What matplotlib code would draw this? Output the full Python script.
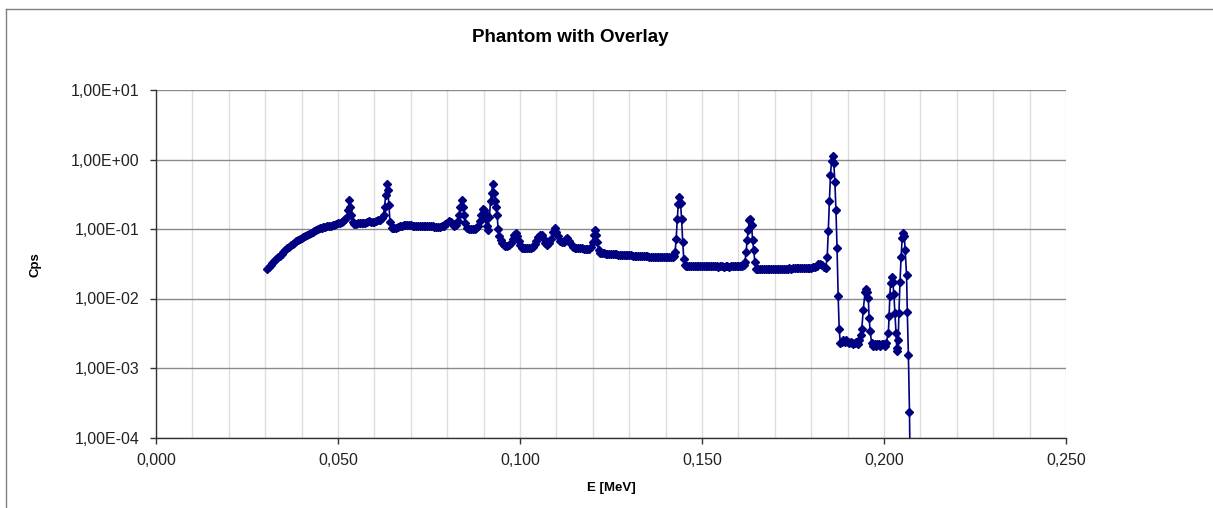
import matplotlib
matplotlib.use("Agg")
import matplotlib.pyplot as plt
from matplotlib.ticker import FuncFormatter, MultipleLocator, LogLocator, NullLocator
from matplotlib.lines import Line2D

plt.rcParams['font.family'] = ['Liberation Sans', 'DejaVu Sans']

# energies in keV, count rates in cps
energy_kev = [
    # rise
    30.5, 31.0, 31.5, 32.0, 32.5, 33.0, 33.5, 34.0, 34.5, 35.0,
    35.5, 36.0, 36.5, 37.0, 37.5, 38.0, 38.5, 39.0, 39.5, 40.0,
    40.5, 41.0, 41.5, 42.0, 42.5, 43.0, 43.5, 44.0, 44.5, 45.0,
    45.5, 46.0, 46.5, 47.0, 47.5, 48.0, 48.5, 49.0, 49.5, 50.0,
    50.5, 51.0, 51.5, 52.0, 52.5,
    # peak 53
    52.8, 53.1, 53.4, 53.7, 54.0, 54.5,
    55.0, 55.5, 56.0, 56.5, 57.0, 57.5, 58.0, 58.5, 59.0, 59.5,
    60.0, 60.5, 61.0, 61.5, 62.0, 62.5,
    # peak 63
    62.8, 63.1, 63.4, 63.7, 64.0, 64.3, 64.7, 65.1,
    65.5, 66.0, 66.5, 67.0, 67.5, 68.0, 68.5, 69.0, 69.5, 70.0,
    70.5, 71.0, 71.5, 72.0, 72.5, 73.0, 73.5, 74.0, 74.5, 75.0,
    75.5, 76.0, 76.5, 77.0, 77.5, 78.0, 78.5, 79.0, 79.5, 80.0,
    80.5, 81.0, 81.5, 82.0, 82.5, 83.0,
    # peak 84
    83.3, 83.6, 84.0, 84.3, 84.6, 85.0, 85.5, 86.0, 86.5, 87.0,
    87.5, 88.0, 88.5, 89.0,
    # peaks 90 / 92.5
    89.4, 89.7, 90.0, 90.3, 90.6, 90.9, 91.2, 91.6, 91.9, 92.2,
    92.5, 92.8, 93.1, 93.4, 93.7, 94.0, 94.3,
    94.7, 95.1, 95.5, 96.0, 96.5, 97.0, 97.5, 98.0, 98.4, 98.8,
    99.2, 99.6, 100.0, 100.5, 101.0, 101.5, 102.0, 102.5, 103.0, 103.5,
    104.0, 104.5, 105.0, 105.5, 106.0, 106.5, 107.0, 107.5, 108.0, 108.5,
    109.0, 109.5, 110.0, 110.5, 111.0, 111.5, 112.0, 112.5, 113.0, 113.5,
    114.0, 114.5, 115.0, 115.5, 116.0, 116.5, 117.0, 117.5, 118.0, 118.5,
    119.0, 119.5,
    # peak 121
    120.0, 120.3, 120.6, 120.9, 121.2, 121.6, 122.0,
    122.5, 123.0, 123.5, 124.0, 124.5, 125.0, 125.5, 126.0, 126.5, 127.0,
    127.5, 128.0, 128.5, 129.0, 129.5, 130.0, 130.5, 131.0, 131.5, 132.0,
    132.5, 133.0, 133.5, 134.0, 134.5, 135.0, 135.5, 136.0, 136.5, 137.0,
    137.5, 138.0, 138.5, 139.0, 139.5, 140.0, 140.5, 141.0, 141.5, 142.0,
    142.3,
    # peak 144
    142.6, 142.9, 143.2, 143.5, 143.8, 144.1, 144.4, 144.7, 145.0, 145.3,
    145.6,
    146.0, 146.5, 147.0, 147.5, 148.0, 148.5, 149.0, 149.5, 150.0, 150.5,
    151.0, 151.5, 152.0, 152.5, 153.0, 153.5, 154.0, 154.5, 155.0, 155.5,
    156.0, 156.5, 157.0, 157.5, 158.0, 158.5, 159.0, 159.5, 160.0, 160.5,
    161.0, 161.5,
    # peak 163
    161.8, 162.1, 162.4, 162.7, 163.0, 163.3, 163.6, 163.9, 164.2, 164.5,
    164.8,
    165.0, 165.5, 166.0, 166.5, 167.0, 167.5, 168.0, 168.5, 169.0, 169.5,
    170.0, 170.5, 171.0, 171.5, 172.0, 172.5, 173.0, 173.5, 174.0, 174.5,
    175.0, 175.5, 176.0, 176.5, 177.0, 177.5, 178.0, 178.5, 179.0, 179.5,
    180.0, 180.5, 181.0, 181.5, 182.0, 182.5, 183.0, 183.5, 184.0,
    # peak 186
    184.4, 184.7, 185.0, 185.3, 185.6, 185.9, 186.2, 186.5, 186.8, 187.1,
    187.4, 187.7, 188.0,
    188.4, 188.8, 189.2, 189.6, 190.0, 190.4, 190.8, 191.2, 191.6, 192.0,
    192.4, 192.8, 193.2, 193.6,
    # peak 195
    193.9, 194.3, 194.8, 195.1, 195.3, 195.7, 195.9, 196.2, 196.6,
    197.0, 197.4, 197.8, 198.2, 198.6, 199.0, 199.4, 199.8, 200.2, 200.6,
    # peaks 202 / 205
    201.2, 201.4, 201.6, 201.8, 202.1, 202.4, 202.7, 203.0, 203.3, 203.5,
    203.6, 203.9, 204.1, 204.4, 204.7, 205.0, 205.3, 205.6, 205.8, 206.2,
    206.4, 206.7, 207.0, 207.3,
]

cps = [
    0.0265, 0.0282, 0.0300, 0.0320, 0.0342, 0.0365, 0.0390, 0.0415, 0.0440, 0.0468,
    0.0496, 0.0525, 0.0552, 0.0580, 0.0608, 0.0636, 0.0663, 0.0690, 0.0715, 0.0740,
    0.0770, 0.0800, 0.0830, 0.0860, 0.0890, 0.0920, 0.0945, 0.0970, 0.1000, 0.1030,
    0.1050, 0.1070, 0.1080, 0.1090, 0.1100, 0.1120, 0.1140, 0.1160, 0.1180, 0.1210,
    0.1240, 0.1280, 0.1320, 0.1380, 0.1500,
    0.19, 0.26, 0.21, 0.16, 0.125, 0.118,
    0.118, 0.120, 0.121, 0.122, 0.123, 0.124, 0.127, 0.130, 0.128, 0.126,
    0.127, 0.130, 0.133, 0.136, 0.142, 0.160,
    0.21, 0.31, 0.45, 0.37, 0.22, 0.125, 0.104, 0.102,
    0.103, 0.105, 0.107, 0.110, 0.112, 0.114, 0.116, 0.115, 0.114, 0.113,
    0.112, 0.112, 0.111, 0.111, 0.112, 0.111, 0.110, 0.110, 0.111, 0.110,
    0.109, 0.109, 0.108, 0.108, 0.107, 0.108, 0.110, 0.112, 0.117, 0.124,
    0.132, 0.128, 0.118, 0.112, 0.116, 0.130,
    0.16, 0.21, 0.265, 0.21, 0.16, 0.12, 0.104, 0.100, 0.099, 0.099,
    0.100, 0.103, 0.110, 0.130,
    0.16, 0.195, 0.19, 0.17, 0.14, 0.11, 0.097, 0.15, 0.25, 0.33,
    0.45, 0.33, 0.25, 0.21, 0.16, 0.10, 0.078,
    0.069, 0.063, 0.059, 0.057, 0.057, 0.059, 0.063, 0.072, 0.082, 0.087,
    0.080, 0.068, 0.058, 0.054, 0.053, 0.0525, 0.0525, 0.0525, 0.053, 0.055,
    0.060, 0.068, 0.076, 0.082, 0.082, 0.072, 0.062, 0.058, 0.062, 0.072,
    0.090, 0.105, 0.090, 0.078, 0.068, 0.064, 0.066, 0.072, 0.074, 0.068,
    0.060, 0.056, 0.054, 0.054, 0.053, 0.053, 0.0525, 0.052, 0.052, 0.0515,
    0.052, 0.055,
    0.066, 0.082, 0.098, 0.082, 0.066, 0.050, 0.0455,
    0.0447, 0.0445, 0.0444, 0.0442, 0.0440, 0.0437, 0.0435, 0.0433, 0.0431, 0.0428,
    0.0426, 0.0424, 0.0423, 0.0421, 0.0419, 0.0417, 0.0416, 0.0414, 0.0412, 0.0411,
    0.0410, 0.0409, 0.0407, 0.0406, 0.0405, 0.0404, 0.0402, 0.0401, 0.0400, 0.0400,
    0.0399, 0.0398, 0.0398, 0.0397, 0.0396, 0.0396, 0.0395, 0.0395, 0.0396, 0.0400,
    0.041,
    0.047, 0.071, 0.138, 0.229, 0.29, 0.236, 0.138, 0.066, 0.0365, 0.030,
    0.0296,
    0.0294, 0.0293, 0.0294, 0.0292, 0.0291, 0.0293, 0.0292, 0.0290, 0.0291, 0.0292,
    0.0290, 0.0289, 0.0290, 0.0291, 0.0289, 0.0290, 0.0289, 0.0288, 0.0290, 0.0289,
    0.0288, 0.0289, 0.0290, 0.0288, 0.0289, 0.0290, 0.0289, 0.0291, 0.0292, 0.0294,
    0.0296, 0.0305,
    0.034, 0.046, 0.07, 0.098, 0.134, 0.138, 0.114, 0.07, 0.05, 0.034,
    0.027,
    0.0268, 0.0266, 0.0265, 0.0266, 0.0267, 0.0265, 0.0266, 0.0267, 0.0266, 0.0268,
    0.0267, 0.0268, 0.0269, 0.0268, 0.0269, 0.0270, 0.0269, 0.0270, 0.0271, 0.0270,
    0.0271, 0.0272, 0.0271, 0.0272, 0.0273, 0.0272, 0.0274, 0.0275, 0.0276, 0.0277,
    0.0278, 0.0280, 0.0285, 0.0295, 0.0312, 0.0318, 0.0300, 0.0285, 0.0276,
    0.040, 0.094, 0.256, 0.6, 0.96, 1.12, 0.9, 0.48, 0.187, 0.053,
    0.011, 0.0036, 0.00227,
    0.0024, 0.0025, 0.0024, 0.0025, 0.0024, 0.0023, 0.0024, 0.0023, 0.0022, 0.0023,
    0.0024, 0.0022, 0.0025, 0.0030,
    0.0037, 0.0068, 0.0126, 0.0139, 0.0125, 0.0101, 0.0053, 0.0034, 0.00227,
    0.0021, 0.0022, 0.0021, 0.0022, 0.0022, 0.0021, 0.0022, 0.0022, 0.0021, 0.0023,
    0.0032, 0.0056, 0.0107, 0.0166, 0.0206, 0.0175, 0.0118, 0.0062, 0.0032, 0.00195,
    0.00176, 0.0025, 0.0062, 0.0175, 0.040, 0.074, 0.0865, 0.078, 0.05, 0.0216,
    0.0065, 0.00154, 0.000236, 0.00001,
]

assert len(energy_kev) == len(cps), (len(energy_kev), len(cps))
energy = [e / 1000 for e in energy_kev]

W, H = 1213, 508
fig = plt.figure(figsize=(W / 100, H / 100), dpi=100)
ax = fig.add_axes([156 / W, 1 - 437.5 / H, 910 / W, 347.5 / H])

ax.plot(energy, cps, color='#000080', lw=1.2, marker='D', ms=4.0,
        mfc='#000080', mec='#000080', zorder=3)

ax.set_yscale('log')
ax.set_xlim(0, 0.25)
ax.set_ylim(1e-4, 1e1)

ax.xaxis.set_major_locator(MultipleLocator(0.05))
ax.xaxis.set_minor_locator(MultipleLocator(0.01))
ax.yaxis.set_major_locator(LogLocator(base=10, numticks=10))
ax.yaxis.set_minor_locator(NullLocator())
ax.xaxis.set_major_formatter(FuncFormatter(lambda v, p: f"{v:.3f}".replace('.', ',')))
ax.yaxis.set_major_formatter(FuncFormatter(lambda v, p: f"{v:.2E}".replace('.', ',')))

ax.xaxis.grid(True, which='both', color='#dedede', lw=1.0)
ax.yaxis.grid(True, which='major', color='#8a8a8a', lw=1.0)
ax.set_axisbelow(True)

for s in ['top', 'right']:
    ax.spines[s].set_visible(False)
for s in ['left', 'bottom']:
    ax.spines[s].set_color('#333333')
    ax.spines[s].set_linewidth(1.0)

ax.tick_params(axis='both', which='major', direction='out', length=4,
               width=1, color='#333333', labelsize=11.5, labelcolor='#222222')
ax.tick_params(axis='y', pad=8)
ax.tick_params(axis='x', pad=7)
ax.tick_params(axis='x', which='minor', length=0)

fig.text(570 / W, 1 - 38 / H, 'Phantom with Overlay', ha='center', va='center',
         fontsize=13.5, fontweight='bold')
fig.text(611 / W, 1 - 488 / H, 'E [MeV]', ha='center', va='center',
         fontsize=9.5, fontweight='bold')
fig.text(35 / W, 1 - 265 / H, 'Cps', ha='center', va='center', rotation=90,
         fontsize=9.5, fontweight='bold')

# outer chart frame
fig.add_artist(Line2D([6 / W, 6 / W], [0, 1 - 9 / H], transform=fig.transFigure,
                      color='#808080', lw=1))
fig.add_artist(Line2D([6 / W, 1], [1 - 9 / H, 1 - 9 / H], transform=fig.transFigure,
                      color='#808080', lw=1))

fig.savefig('out.png', dpi=100)
